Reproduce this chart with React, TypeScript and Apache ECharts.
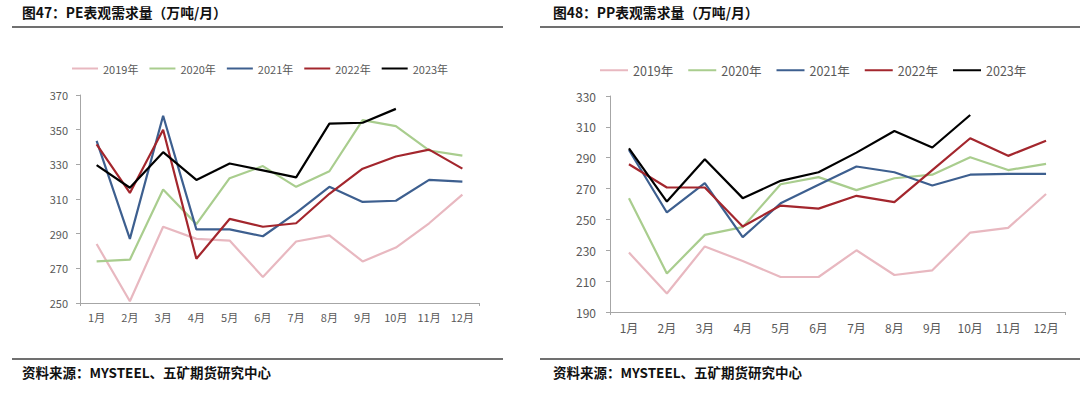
import React, { useEffect, useRef } from "react";
import * as echarts from "echarts";

const months = ["1月", "2月", "3月", "4月", "5月", "6月", "7月", "8月", "9月", "10月", "11月", "12月"];
const years = ["2019年", "2020年", "2021年", "2022年", "2023年"];
const colors = ["#E8B8C0", "#A9CD8E", "#3D5F8F", "#A3262D", "#000000"];

const pe2019 = [284, 251, 294, 287, 286, 265, 285.5, 289, 274, 282, 296, 312.5];
const pe2020 = [274, 275, 315.5, 295.5, 322, 329, 317, 326, 355.5, 352, 338, 335];
const pe2021 = [343.5, 287, 358, 292.5, 292.5, 288.5, 302, 317, 308.3, 309, 321, 320];
const pe2022 = [341.5, 313.5, 350, 275.5, 298.5, 294, 296, 313, 327.5, 334.5, 338.5, 327.5];
const pe2023 = [329.5, 316.5, 337, 321, 330.5, 326.5, 322.5, 353.5, 354, 362];

const pp2019 = [228.5, 202, 232.5, 223, 212.7, 212.7, 230, 214, 217, 241.5, 244.5, 266.5];
const pp2020 = [263.8, 215, 240, 245, 272.8, 277.4, 269, 276.7, 279, 290.3, 282, 286];
const pp2021 = [295, 254.5, 273.5, 238.5, 260.5, 272.5, 284.3, 280.6, 272, 279, 279.5, 279.5];
const pp2022 = [285.8, 270.7, 270.7, 245.4, 259, 257, 265.3, 261.2, 282, 302.6, 291.2, 301];
const pp2023 = [296, 261.6, 289, 263.8, 275, 280.6, 293.3, 307.3, 296.6, 317.7];

const peYTicks = { min: 250, max: 370, interval: 20 };
const ppYTicks = { min: 190, max: 330, interval: 20 };

const peTitle = "图47：PE表观需求量（万吨/月）";
const ppTitle = "图48：PP表观需求量（万吨/月）";
const sourceText = "资料来源：MYSTEEL、五矿期货研究中心";

export default function App() {
  const ref = useRef<HTMLDivElement>(null);
  useEffect(() => {
    if (!ref.current) return;
    const chart = echarts.init(ref.current, null, { renderer: "svg" });
    const font = '"Noto Sans CJK SC", "Noto Sans", sans-serif';
    const axisGray = "#A6A6A6";
    const labelGray = "#595959";
    const peData = [pe2019, pe2020, pe2021, pe2022, pe2023];
    const ppData = [pp2019, pp2020, pp2021, pp2022, pp2023];

    const xAxis = (gridIndex: number, fontSize: number, margin: number) => ({
      type: "category",
      gridIndex,
      data: months,
      boundaryGap: true,
      axisLine: { lineStyle: { color: axisGray, width: 1 } },
      axisTick: { show: true, interval: (i: number) => i === 10, length: 3, lineStyle: { color: axisGray } },
      axisLabel: { color: labelGray, fontSize, fontFamily: font, margin, interval: 0 },
      splitLine: { show: false },
    });
    const yAxis = (gridIndex: number, t: any, fontSize: number, margin: number) => ({
      type: "value",
      gridIndex,
      min: t.min,
      max: t.max,
      interval: t.interval,
      axisLine: { show: true, lineStyle: { color: axisGray, width: 1 } },
      axisTick: { show: true, length: 4, lineStyle: { color: axisGray } },
      axisLabel: { color: labelGray, fontSize, fontFamily: font, margin },
      splitLine: { show: false },
    });

    const series: any[] = [];
    peData.forEach((d, i) =>
      series.push({
        name: years[i],
        type: "line",
        xAxisIndex: 0,
        yAxisIndex: 0,
        data: d,
        symbol: "none",
        lineStyle: { color: colors[i], width: 2.2 },
        itemStyle: { color: colors[i] },
      })
    );
    ppData.forEach((d, i) =>
      series.push({
        name: years[i],
        type: "line",
        xAxisIndex: 1,
        yAxisIndex: 1,
        data: d,
        symbol: "none",
        lineStyle: { color: colors[i], width: 2.2 },
        itemStyle: { color: colors[i] },
      })
    );

    const legendBase = {
      icon: "rect",
      data: years,
      itemHeight: 2,
      orient: "horizontal",
      padding: 0,
    };

    chart.setOption({
      animation: false,
      backgroundColor: "#ffffff",
      color: colors,
      grid: [
        { left: 80, right: 601, top: 95, bottom: 91, containLabel: false },
        { left: 610, right: 15, top: 96, bottom: 82, containLabel: false },
      ],
      xAxis: [xAxis(0, 11, 8), xAxis(1, 12, 9)],
      yAxis: [yAxis(0, peYTicks, 11, 12), yAxis(1, ppYTicks, 12, 14)],
      legend: [
        {
          ...legendBase,
          left: 72,
          top: 63,
          itemWidth: 26,
          itemGap: 11,
          textStyle: { color: labelGray, fontSize: 11, fontFamily: font },
        },
        {
          ...legendBase,
          left: 600,
          top: 64,
          itemWidth: 28,
          itemGap: 15,
          textStyle: { color: labelGray, fontSize: 12.5, fontFamily: font },
        },
      ],
      series,
      graphic: [
        { type: "text", left: 22, top: 5, style: { text: peTitle, fill: "#111", font: `bold 13.8px ${font}` } },
        { type: "text", left: 553, top: 5, style: { text: ppTitle, fill: "#111", font: `bold 13.8px ${font}` } },
        { type: "line", shape: { x1: 12, y1: 27, x2: 503, y2: 27 }, style: { stroke: "#404040", lineWidth: 1.3 } },
        { type: "line", shape: { x1: 540, y1: 27, x2: 1080, y2: 27 }, style: { stroke: "#404040", lineWidth: 1.3 } },
        { type: "line", shape: { x1: 12, y1: 359, x2: 503, y2: 359 }, style: { stroke: "#404040", lineWidth: 1.3 } },
        { type: "line", shape: { x1: 540, y1: 359, x2: 1080, y2: 359 }, style: { stroke: "#404040", lineWidth: 1.3 } },
        { type: "text", left: 22, top: 365, style: { text: sourceText, fill: "#111", font: `bold 13.5px ${font}` } },
        { type: "text", left: 553, top: 365, style: { text: sourceText, fill: "#111", font: `bold 13.5px ${font}` } },
      ],
    });
    return () => chart.dispose();
  }, []);
  return <div ref={ref} style={{ position: "fixed", left: 0, top: 0, width: 1080, height: 394 }} />;
}
